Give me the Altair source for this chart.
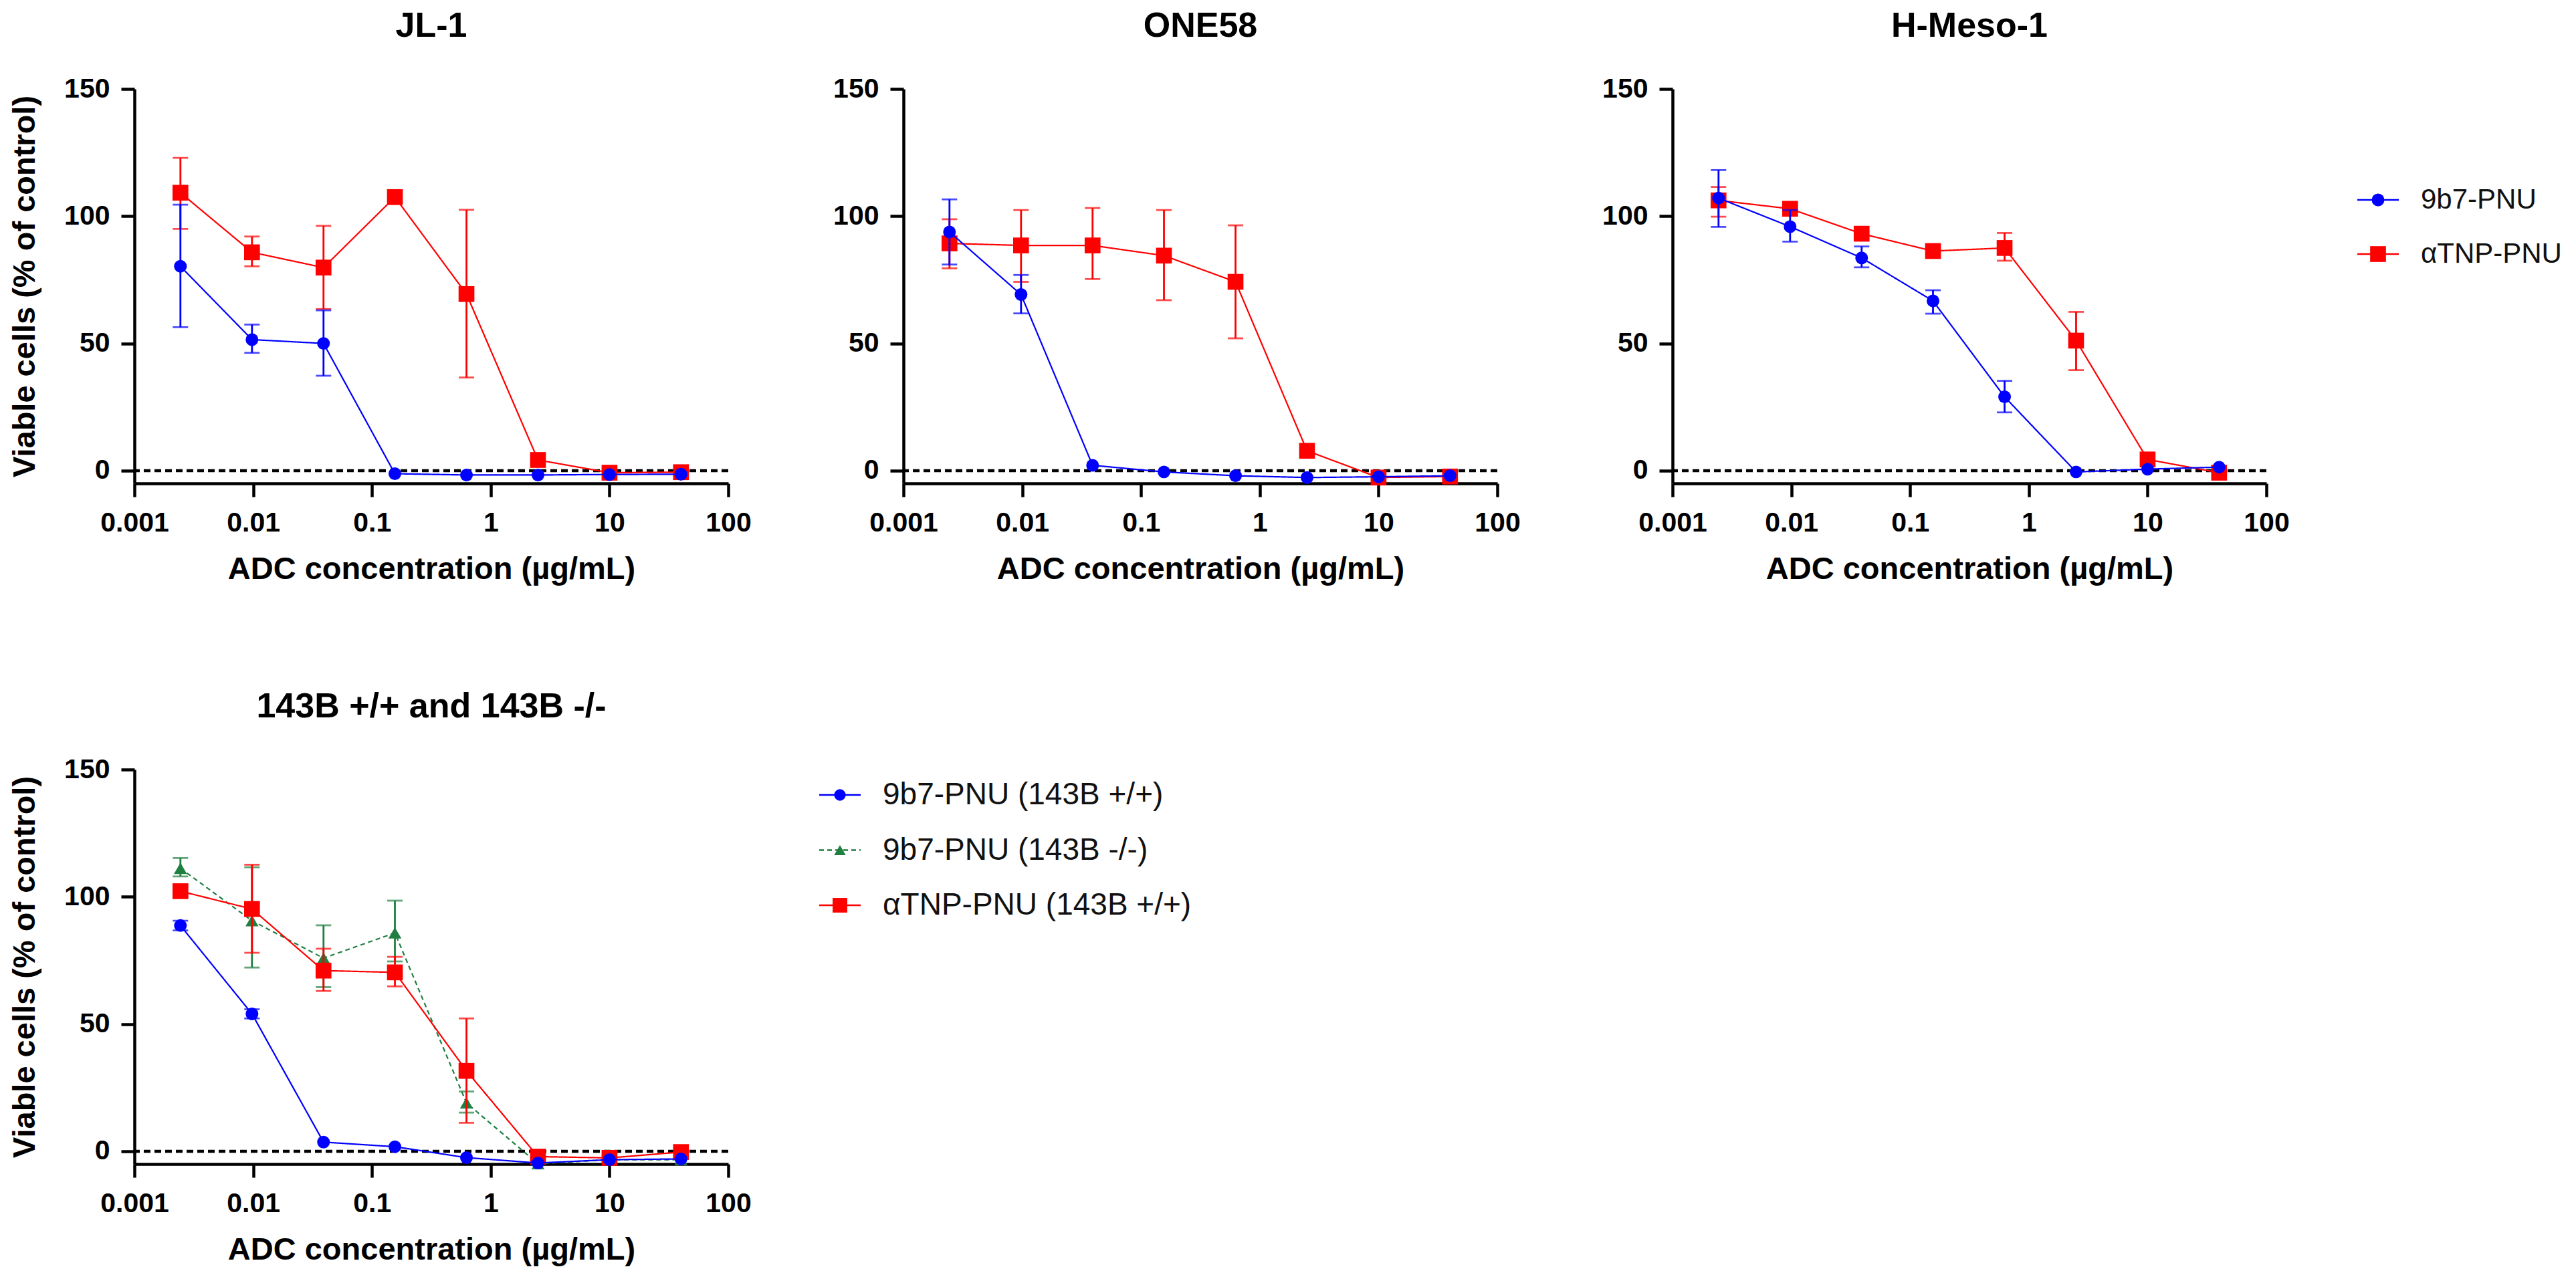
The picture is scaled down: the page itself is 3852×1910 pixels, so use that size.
import altair as alt
import pandas as pd

FONT = "Liberation Sans"

conc = [0.00244, 0.00977, 0.0391, 0.156, 0.625, 2.5, 10, 40]

# JL-1
jl1_9b7 = [80.3, 51.5, 50.0, -1.2, -1.7, -1.7, -1.5, -1.4]
jl1_9b7_lo = [56.4, 46.3, 37.3, None, None, None, None, None]
jl1_9b7_hi = [104.5, 57.4, 63.0, None, None, None, None, None]
jl1_tnp = [109.2, 85.8, 79.8, 107.5, 69.4, 4.2, -0.8, -0.6]
jl1_tnp_lo = [95.0, 80.3, 63.5, 106.0, 36.6, 2.2, None, None]
jl1_tnp_hi = [122.9, 92.0, 96.2, 109.0, 102.5, 6.2, None, None]

# ONE58
one_9b7 = [93.8, 69.2, 2.1, -0.5, -2.0, -2.7, -2.4, -2.0]
one_9b7_lo = [81.0, 61.8, None, None, None, None, None, None]
one_9b7_hi = [106.6, 76.9, None, None, None, None, None, None]
one_tnp = [89.3, 88.5, 88.5, 84.5, 74.2, 7.8, -2.7, -2.3]
one_tnp_lo = [79.5, 74.2, 75.3, 67.0, 52.0, None, None, None]
one_tnp_hi = [98.8, 102.4, 103.2, 102.4, 96.4, None, None, None]

# H-Meso-1
hm_9b7 = [107.1, 95.9, 83.6, 66.7, 29.0, -0.5, 0.6, 1.4]
hm_9b7_lo = [95.8, 90.0, 79.9, 61.7, 22.9, None, None, None]
hm_9b7_hi = [118.1, 102.4, 88.1, 70.9, 35.3, None, None, None]
hm_tnp = [106.2, 102.9, 93.1, 86.3, 87.5, 51.1, 4.4, -0.8]
hm_tnp_lo = [99.8, 101.5, None, None, 82.5, 39.5, None, None]
hm_tnp_hi = [111.5, 104.5, None, None, 93.4, 62.4, None, None]

# 143B +/+ and 143B -/-
b_pp = [88.7, 54.0, 3.6, 1.8, -2.5, -4.6, -3.3, -3.0]
b_pp_lo = [86.8, 52.2, None, None, None, None, None, None]
b_pp_hi = [90.6, 55.8, None, None, None, None, None, None]
b_mm = [111.2, 90.6, 75.9, 85.8, 19.0, -4.9, -3.3, -3.3]
b_mm_lo = [108.0, 72.2, 64.5, 74.6, 15.2, None, None, None]
b_mm_hi = [115.2, 111.6, 88.8, 98.5, 23.5, None, None, None]
b_tnp = [102.2, 95.2, 71.0, 70.3, 31.6, -2.1, -2.6, -0.3]
b_tnp_lo = [100.2, 78.0, 63.0, 64.8, 11.2, None, None, None]
b_tnp_hi = [104.4, 112.6, 79.6, 76.4, 52.2, None, None, None]

top_labels = ["9b7-PNU", "αTNP-PNU"]
bottom_labels = ["9b7-PNU (143B +/+)", "9b7-PNU (143B -/-)", "αTNP-PNU (143B +/+)"]

BLUE = "#0000ff"
RED = "#ff0000"
GREEN = "#1f7f40"
SOLID = [1, 0]
DASH = [7, 5]

PW, PH = 888, 590
LEG_X = PW + 136
XS = alt.Scale(type="log", domain=[0.001, 100])
YS = alt.Scale(domain=[-5, 150], nice=False, zero=False)


def series(vals, lo, hi):
    return pd.DataFrame({"conc": conc, "v": vals, "lo": lo, "hi": hi})


def layers_for(df, color, shape, size, dash):
    x = alt.X("conc:Q", scale=XS)
    y = alt.Y("v:Q", scale=YS)
    line = alt.Chart(df).mark_line(color=color, strokeWidth=2.2, strokeDash=dash).encode(x=x, y=y)
    err_df = df.dropna(subset=["lo", "hi"])
    bars = alt.Chart(err_df).mark_rule(color=color, strokeWidth=2.8).encode(
        x=x, y=alt.Y("lo:Q", scale=YS), y2="hi:Q")
    cap_lo = alt.Chart(err_df).mark_tick(color=color, orient="horizontal", size=23, thickness=2.8).encode(
        x=x, y=alt.Y("lo:Q", scale=YS))
    cap_hi = alt.Chart(err_df).mark_tick(color=color, orient="horizontal", size=23, thickness=2.8).encode(
        x=x, y=alt.Y("hi:Q", scale=YS))
    pts = alt.Chart(df).mark_point(filled=True, opacity=1, color=color, shape=shape, size=size).encode(x=x, y=y)
    return [line, bars, cap_lo, cap_hi, pts]


def legend(labels, styles, rng, fs):
    df = pd.DataFrame({"label": labels, "i": list(range(len(labels)))})
    y = alt.Y("i:Q", axis=None, scale=alt.Scale(domain=[0, len(labels) - 1], range=rng))
    parts = []
    for lab, (color, shape, size, dash) in zip(labels, styles):
        row = alt.Chart(df).transform_filter(alt.datum.label == lab)
        parts.append(row.mark_rule(strokeWidth=2.5, color=color, strokeDash=dash).encode(
            y=y, x=alt.value(LEG_X), x2=alt.value(LEG_X + 62)))
        parts.append(row.mark_point(filled=True, opacity=1, color=color, shape=shape, size=size).encode(
            y=y, x=alt.value(LEG_X + 31)))
    parts.append(alt.Chart(df).mark_text(align="left", baseline="middle", font=FONT, fontSize=fs,
                                         color="#111").encode(y=y, x=alt.value(LEG_X + 95), text="label:N"))
    return alt.layer(*parts)


def panel(title, groups, ytitle, leg=None):
    zero = alt.Chart(pd.DataFrame({"z": [0]})).mark_rule(
        color="black", strokeWidth=4.5, strokeDash=[10, 6]).encode(y=alt.Y("z:Q", scale=YS))
    x_axis = alt.X("conc:Q", scale=XS, title="ADC concentration (µg/mL)",
                   axis=alt.Axis(values=[0.001, 0.01, 0.1, 1, 10, 100], format="~g",
                                 labelFlush=False, labelOverlap=False, titlePadding=26))
    y_axis = alt.Y("v:Q", scale=YS, title=ytitle,
                   axis=alt.Axis(values=[0, 50, 100, 150], titlePadding=34, labelPadding=17))
    frame = alt.Chart(pd.DataFrame({"conc": [0.001], "v": [0]})).mark_point(opacity=0).encode(x=x_axis, y=y_axis)
    layers = [frame, zero]
    for g in groups:
        layers += layers_for(*g)
    data = alt.layer(*layers)
    if leg is not None:
        data = alt.layer(data, leg).resolve_scale(y="independent")
    return data.properties(
        width=PW, height=PH,
        title=alt.TitleParams(title, frame="group", anchor="middle", offset=46))


p_jl1 = panel("JL-1", [
    (series(jl1_tnp, jl1_tnp_lo, jl1_tnp_hi), RED, "square", 560, SOLID),
    (series(jl1_9b7, jl1_9b7_lo, jl1_9b7_hi), BLUE, "circle", 360, SOLID),
], "Viable cells (% of control)")
p_one = panel("ONE58", [
    (series(one_tnp, one_tnp_lo, one_tnp_hi), RED, "square", 560, SOLID),
    (series(one_9b7, one_9b7_lo, one_9b7_hi), BLUE, "circle", 360, SOLID),
], None)
leg_top = legend(top_labels, [(BLUE, "circle", 360, SOLID), (RED, "square", 560, SOLID)], [166, 247], 42)
p_hm = panel("H-Meso-1", [
    (series(hm_tnp, hm_tnp_lo, hm_tnp_hi), RED, "square", 560, SOLID),
    (series(hm_9b7, hm_9b7_lo, hm_9b7_hi), BLUE, "circle", 360, SOLID),
], None, leg_top)
leg_bottom = legend(bottom_labels, [(BLUE, "circle", 300, SOLID), (GREEN, "triangle-up", 300, DASH),
                                    (RED, "square", 480, SOLID)], [38, 203], 46)
p_143 = panel("143B +/+ and 143B -/-", [
    (series(b_mm, b_mm_lo, b_mm_hi), GREEN, "triangle-up", 380, DASH),
    (series(b_tnp, b_tnp_lo, b_tnp_hi), RED, "square", 560, SOLID),
    (series(b_pp, b_pp_lo, b_pp_hi), BLUE, "circle", 360, SOLID),
], "Viable cells (% of control)", leg_bottom)

chart = alt.concat(
    p_jl1, p_one, p_hm, p_143, columns=3, spacing={"row": 428, "column": 262}, bounds="flush"
).configure_view(
    stroke=None
).configure_axis(
    grid=False, domainColor="black", domainWidth=4.5, tickColor="black", tickWidth=4.5,
    tickSize=20, labelFont=FONT, labelFontSize=41, labelFontWeight="bold", labelColor="black",
    labelPadding=19, titleFont=FONT, titleFontSize=47, titleFontWeight="bold", titleColor="black"
).configure_title(
    font=FONT, fontSize=52, fontWeight="bold", color="black"
).properties(background="white", padding=5)

chart.save("out.html", embed_options={"renderer": "svg", "actions": False})
